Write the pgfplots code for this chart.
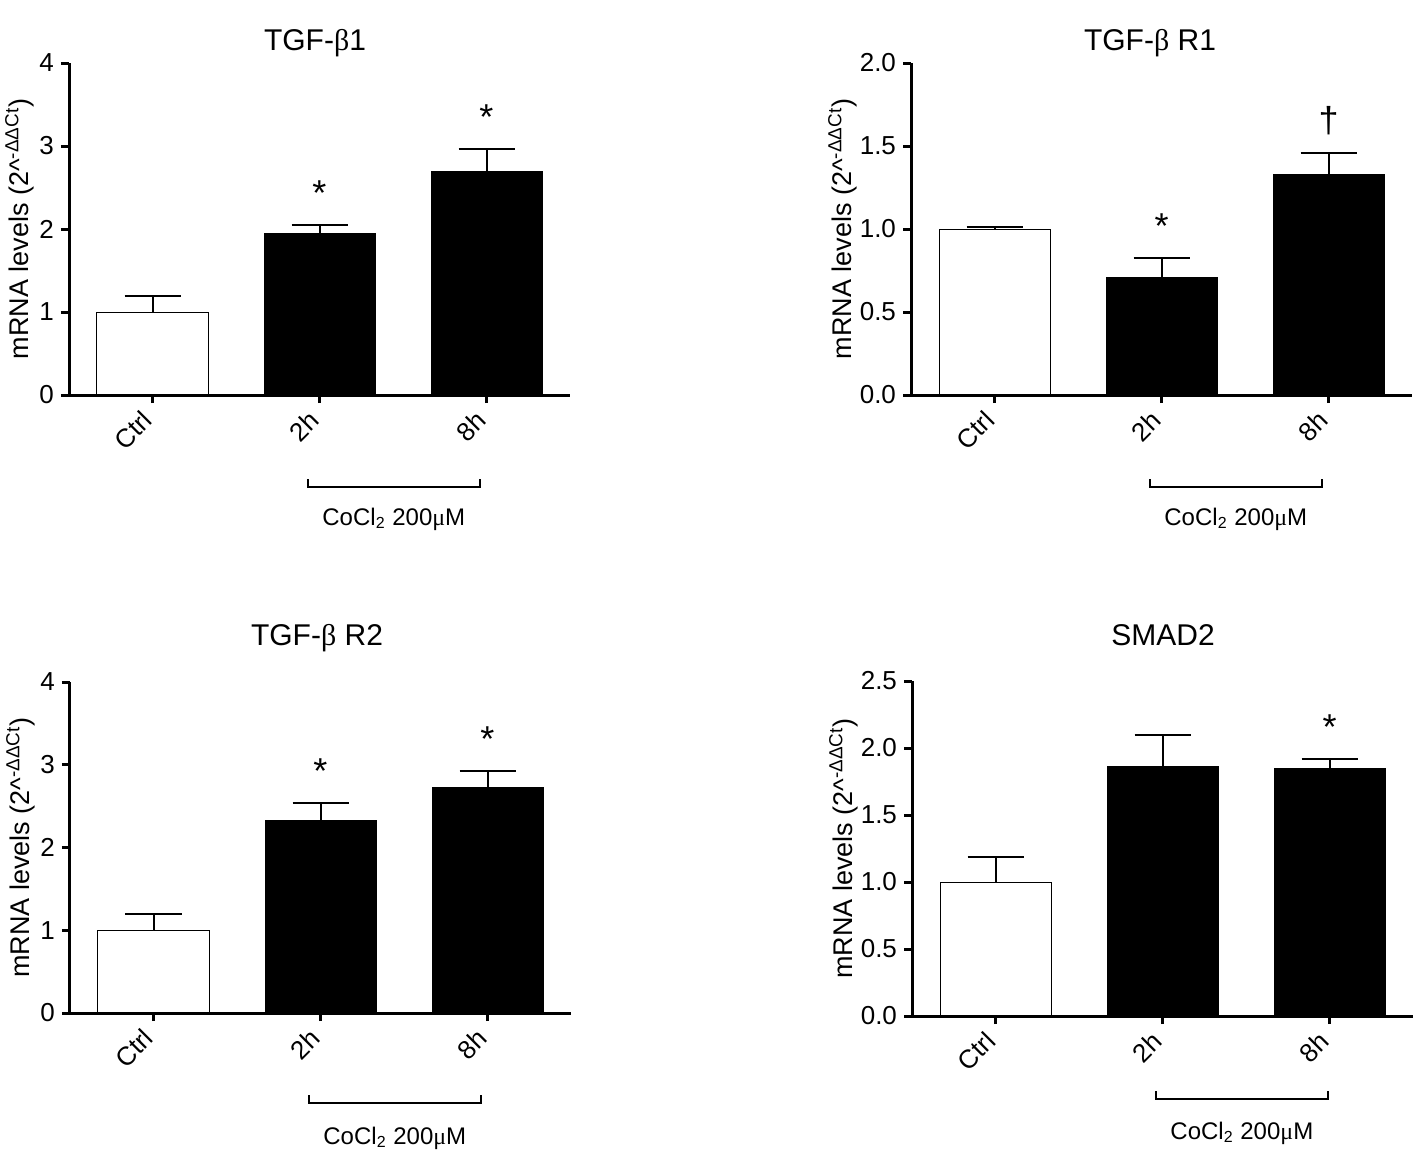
\documentclass[border=0pt]{standalone}
\usepackage{pgfplots}
\pgfplotsset{compat=1.18}
\usepackage{fontspec}
\setmainfont{Liberation Sans}
\newfontfamily\serifgreek{Liberation Serif}
\newcommand{\tickfont}{\fontsize{13}{15}\selectfont}
\newcommand{\labelfont}{\fontsize{13.5}{16}\selectfont}
\newcommand{\titlefont}{\fontsize{15}{18}\selectfont}
\newcommand{\cofont}{\fontsize{12}{14}\selectfont}
\newcommand{\starfont}{\fontsize{18}{20}\selectfont}
\newcommand{\dagfont}{\fontsize{18}{20}\selectfont}
\pgfplotsset{
 panel/.style={
  scale only axis, width=250.5pt, anchor=south west,
  axis x line=bottom, axis y line=left,
  axis line style={-, line width=1.5pt},
  tick style={line width=1.5pt, black}, major tick length=4pt, tick align=outside,
  xmin=-0.5, xmax=2.5, ymin=0, enlargelimits=false,
  xtick={0,1,2}, xticklabels={Ctrl,2h,8h},
  ybar, bar width=55.5pt, bar shift=0pt,
  ticklabel style={font=\tickfont},
  /pgf/number format/assume math mode=true,
  xticklabel style={rotate=45, anchor=east},
  xticklabel shift=4pt,
  ylabel={mRNA levels (2\textasciicircum\textsuperscript{-ΔΔCt})},
  ylabel style={font=\labelfont, anchor=center},
  clip=false, axis on top,
 },
 ctrlbar/.style={fill=white, draw=black, line width=0.5pt,
  error bars/y dir=plus, error bars/y explicit,
  error bars/error bar style={line width=1pt},
  error bars/error mark options={rotate=90, mark size=14pt, line width=1pt}},
 blackbar/.style={fill=black, draw=black, line width=0.5pt,
  error bars/y dir=plus, error bars/y explicit,
  error bars/error bar style={line width=1pt},
  error bars/error mark options={rotate=90, mark size=14pt, line width=1pt}},
 dec1/.style={yticklabel style={/pgf/number format/.cd, fixed, fixed zerofill, precision=1}},
}
\newcommand{\bracket}[4]{% x1, x2, line depth, text depth
  \draw[line width=1pt] ([yshift=-#3+4pt]axis cs:#1,0) -- ([yshift=-#3]axis cs:#1,0) -- ([yshift=-#3]axis cs:#2,0) -- ([yshift=-#3+4pt]axis cs:#2,0);
  \node[font=\cofont] at ([yshift=-#4]axis cs:{(#1+#2)/2},0) {CoCl\textsubscript{2} 200{\serifgreek μ}M};
}
\begin{document}
\begin{tikzpicture}
\useasboundingbox (0,0) rectangle (708.5pt,-575pt);
% TL
\begin{axis}[panel, at={(34.5pt,-197.5pt)}, height=166pt, ymax=4, ytick={0,1,2,3,4},
  ylabel style={at={(axis description cs:-0.098,0.5)}}]
\addplot[ctrlbar] coordinates {(0,1.0) +- (0,0.19)};
\addplot[blackbar] coordinates {(1,1.95) +- (0,0.10) (2,2.69) +- (0,0.27)};
\node[font=\starfont, yshift=16pt] at (axis cs:1,2.05) {*};
\node[font=\starfont, yshift=16pt] at (axis cs:2,2.96) {*};
\bracket{0.93}{1.96}{46pt}{62pt}
\end{axis}
% TR
\begin{axis}[panel, dec1, at={(455.5pt,-197.5pt)}, height=166pt, ymax=2, ytick={0,0.5,1,1.5,2},
  ylabel style={at={(axis description cs:-0.136,0.5)}}]
\addplot[ctrlbar] coordinates {(0,1.0) +- (0,0.012)};
\addplot[blackbar] coordinates {(1,0.71) +- (0,0.115) (2,1.33) +- (0,0.13)};
\node[font=\starfont, yshift=16pt] at (axis cs:1,0.825) {*};
\node[font=\dagfont, yshift=16pt] at (axis cs:2,1.46) {†};
\bracket{0.93}{1.96}{46pt}{62pt}
\end{axis}
% BL
\begin{axis}[panel, at={(35pt,-506.5pt)}, height=165.5pt, ymax=4, ytick={0,1,2,3,4},
  ylabel style={at={(axis description cs:-0.098,0.5)}}]
\addplot[ctrlbar] coordinates {(0,1.0) +- (0,0.196)};
\addplot[blackbar] coordinates {(1,2.33) +- (0,0.21) (2,2.72) +- (0,0.20)};
\node[font=\starfont, yshift=16pt] at (axis cs:1,2.54) {*};
\node[font=\starfont, yshift=16pt] at (axis cs:2,2.92) {*};
\bracket{0.93}{1.96}{45pt}{62.5pt}
\end{axis}
% BR
\begin{axis}[panel, dec1, at={(456pt,-508pt)}, height=167.5pt, ymax=2.5, ytick={0,0.5,1,1.5,2,2.5},
  ylabel style={at={(axis description cs:-0.136,0.5)}}]
\addplot[ctrlbar] coordinates {(0,1.0) +- (0,0.19)};
\addplot[blackbar] coordinates {(1,1.86) +- (0,0.24) (2,1.85) +- (0,0.07)};
\node[font=\starfont, yshift=16pt] at (axis cs:2,1.92) {*};
\bracket{0.96}{1.99}{41.5pt}{58.5pt}
\end{axis}
% titles
\node[font=\titlefont, anchor=base] at (157.5pt,-25.5pt) {TGF-{\serifgreek β}1};
\node[font=\titlefont, anchor=base] at (575pt,-25.5pt) {TGF-{\serifgreek β} R1};
\node[font=\titlefont, anchor=base] at (158.5pt,-322.5pt) {TGF-{\serifgreek β} R2};
\node[font=\titlefont, anchor=base] at (581.5pt,-322.5pt) {SMAD2};
\end{tikzpicture}
\end{document}
